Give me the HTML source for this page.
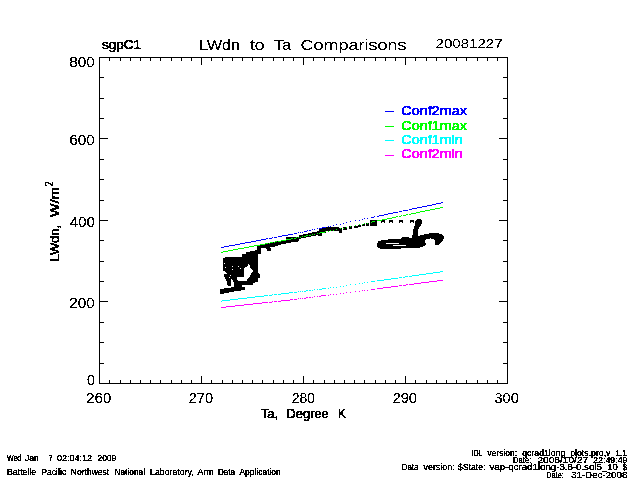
<!DOCTYPE html>
<html lang="en"><head><meta charset="utf-8"><title>LWdn to Ta Comparisons</title>
<style>
html,body{margin:0;padding:0;background:#fff;}
body{width:640px;height:480px;overflow:hidden;}
svg{display:block;}
text{font-family:"Liberation Sans",sans-serif;fill:#000;white-space:pre;}
.ax{stroke:#000;stroke-width:1;fill:none;shape-rendering:crispEdges;}
.ln{stroke-width:1;fill:none;shape-rendering:crispEdges;}
.blk{fill:#000;stroke:none;shape-rendering:crispEdges;}
.wh{fill:#fff;stroke:none;shape-rendering:crispEdges;}
</style></head><body>
<svg width="640" height="480" viewBox="0 0 640 480">
<defs><filter id="px" x="-5%" y="-20%" width="110%" height="140%" color-interpolation-filters="sRGB"><feComponentTransfer><feFuncR type="discrete" tableValues="0 1 1 1 1 1 1 1"/><feFuncG type="discrete" tableValues="0 1 1 1 1 1 1 1"/><feFuncB type="discrete" tableValues="0 1 1 1 1 1 1 1"/><feFuncA type="discrete" tableValues="0 0 1 1 1"/></feComponentTransfer></filter><filter id="px2" x="-5%" y="-20%" width="110%" height="140%" color-interpolation-filters="sRGB"><feComponentTransfer><feFuncR type="discrete" tableValues="0 1 1 1 1 1 1 1"/><feFuncG type="discrete" tableValues="0 1 1 1 1 1 1 1"/><feFuncB type="discrete" tableValues="0 1 1 1 1 1 1 1"/><feFuncA type="discrete" tableValues="0 1 1 1"/></feComponentTransfer></filter></defs>
<rect x="0" y="0" width="640" height="480" fill="#fff"/>
<g class="ax">
<rect x="99.5" y="57.5" width="408" height="326"/>
<path d="M109.5 383.5v-3.5M109.5 57.5v3.5M120.5 383.5v-3.5M120.5 57.5v3.5M130.5 383.5v-3.5M130.5 57.5v3.5M140.5 383.5v-3.5M140.5 57.5v3.5M150.5 383.5v-3.5M150.5 57.5v3.5M160.5 383.5v-3.5M160.5 57.5v3.5M171.5 383.5v-3.5M171.5 57.5v3.5M181.5 383.5v-3.5M181.5 57.5v3.5M191.5 383.5v-3.5M191.5 57.5v3.5M201.5 383.5v-7.5M201.5 57.5v7.5M211.5 383.5v-3.5M211.5 57.5v3.5M222.5 383.5v-3.5M222.5 57.5v3.5M232.5 383.5v-3.5M232.5 57.5v3.5M242.5 383.5v-3.5M242.5 57.5v3.5M252.5 383.5v-3.5M252.5 57.5v3.5M262.5 383.5v-3.5M262.5 57.5v3.5M273.5 383.5v-3.5M273.5 57.5v3.5M283.5 383.5v-3.5M283.5 57.5v3.5M293.5 383.5v-3.5M293.5 57.5v3.5M303.5 383.5v-7.5M303.5 57.5v7.5M313.5 383.5v-3.5M313.5 57.5v3.5M324.5 383.5v-3.5M324.5 57.5v3.5M334.5 383.5v-3.5M334.5 57.5v3.5M344.5 383.5v-3.5M344.5 57.5v3.5M354.5 383.5v-3.5M354.5 57.5v3.5M364.5 383.5v-3.5M364.5 57.5v3.5M375.5 383.5v-3.5M375.5 57.5v3.5M385.5 383.5v-3.5M385.5 57.5v3.5M395.5 383.5v-3.5M395.5 57.5v3.5M405.5 383.5v-7.5M405.5 57.5v7.5M415.5 383.5v-3.5M415.5 57.5v3.5M426.5 383.5v-3.5M426.5 57.5v3.5M436.5 383.5v-3.5M436.5 57.5v3.5M446.5 383.5v-3.5M446.5 57.5v3.5M456.5 383.5v-3.5M456.5 57.5v3.5M466.5 383.5v-3.5M466.5 57.5v3.5M477.5 383.5v-3.5M477.5 57.5v3.5M487.5 383.5v-3.5M487.5 57.5v3.5M497.5 383.5v-3.5M497.5 57.5v3.5M99.5 363.5h4.5M507.5 363.5h-4.5M99.5 342.5h4.5M507.5 342.5h-4.5M99.5 322.5h4.5M507.5 322.5h-4.5M99.5 301.5h8.5M507.5 301.5h-8.5M99.5 281.5h4.5M507.5 281.5h-4.5M99.5 261.5h4.5M507.5 261.5h-4.5M99.5 240.5h4.5M507.5 240.5h-4.5M99.5 220.5h8.5M507.5 220.5h-8.5M99.5 200.5h4.5M507.5 200.5h-4.5M99.5 179.5h4.5M507.5 179.5h-4.5M99.5 159.5h4.5M507.5 159.5h-4.5M99.5 138.5h8.5M507.5 138.5h-8.5M99.5 118.5h4.5M507.5 118.5h-4.5M99.5 98.5h4.5M507.5 98.5h-4.5M99.5 77.5h4.5M507.5 77.5h-4.5"/>
</g>
<g id="data">
<polygon class="blk" points="223.0,258.7 225.9,257.0 241.9,256.5 242.5,254.2 245.9,253.6 245.9,251.9 252.8,251.3 257.4,249.6 257.9,246.7 260.8,246.1 261.9,245.0 265.4,245.0 260.8,247.9 260.8,251.9 257.9,253.6 257.9,272.5 259.7,274.2 259.7,277.6 257.9,278.8 257.9,281.6 253.9,282.8 252.8,284.5 241.9,284.5 241.9,286.8 245.0,287.4 245.0,290.2 237.9,290.8 228.7,292.5 223.0,293.7 220.2,293.7 220.2,289.1 228.7,287.9 233.9,286.8 233.9,282.8 232.2,279.4 231.0,279.4 231.0,285.6 227.6,285.6 227.0,281.6 225.9,279.4 224.2,275.9 224.2,274.2 227.0,273.6 223.0,270.2"/>
<polygon class="wh" points="248.4,263.9 249.5,265.0 250.6,268.0 253.3,270.3 251.0,274.0 249.9,277.0 247.3,279.6 246.9,280.8 238.3,280.8 237.1,278.9 237.1,277.4 243.9,277.0 244.6,274.8 243.9,272.5 244.3,268.0 246.1,266.9 248.0,266.1"/>
<rect class="wh" x="232" y="266" width="1" height="1"/>
<rect class="wh" x="238" y="266" width="1" height="1"/>
<rect class="wh" x="232" y="269" width="1" height="1"/>
<rect class="wh" x="240" y="268" width="1" height="1"/>
<rect class="wh" x="224" y="263" width="1" height="1"/>
<rect class="wh" x="225" y="267" width="1" height="1"/>
<rect class="wh" x="230" y="275" width="1" height="1"/>
<rect class="wh" x="229" y="277" width="1" height="1"/>
<path class="blk" d="M257 245h1v4h-1zM258 245h1v4h-1zM259 245h1v4h-1zM260 244h1v4h-1zM261 244h1v4h-1zM262 244h1v4h-1zM263 244h1v4h-1zM264 244h1v4h-1zM265 243h1v5h-1zM266 243h1v5h-1zM267 243h1v5h-1zM268 243h1v5h-1zM269 243h1v5h-1zM270 242h1v5h-1zM271 242h1v5h-1zM272 242h1v5h-1zM273 242h1v5h-1zM274 242h1v5h-1zM275 241h1v5h-1zM276 241h1v5h-1zM277 241h1v5h-1zM278 241h1v4h-1zM279 241h1v4h-1zM280 241h1v4h-1zM281 240h1v4h-1zM282 240h1v4h-1zM283 240h1v4h-1zM284 240h1v4h-1zM285 240h1v4h-1zM286 239h1v4h-1zM287 239h1v4h-1zM288 239h1v4h-1zM289 239h1v4h-1zM290 239h1v4h-1zM291 238h1v4h-1zM292 238h1v4h-1zM293 238h1v4h-1zM294 238h1v4h-1zM295 238h1v4h-1zM296 237h1v4h-1zM297 237h1v4h-1zM298 237h1v4h-1z"/>
<polygon class="blk" points="257.5,246.2 261.2,245.0 261.2,253.8 250.0,255.0 250.0,251.2 257.5,250.6"/>
<polygon class="blk" points="266.2,247.8 270.6,247.5 270.6,250.9 266.9,250.9"/>
<polygon class="blk" points="286.0,238.6 286.5,236.8 295.0,236.8 295.5,238.0 295.5,241.7 292.0,241.7 286.0,240.0"/>
<polygon class="blk" points="299.0,235.4 300.0,235.1 301.0,234.9 302.0,234.7 303.0,234.5 304.0,234.3 305.0,234.1 306.0,233.9 307.0,233.7 308.0,233.5 309.0,233.3 310.0,233.0 311.0,232.8 312.0,232.6 313.0,232.4 314.0,232.2 315.0,232.0 316.0,231.8 317.0,231.6 318.0,231.4 319.0,231.1 319.0,234.8 318.0,235.1 317.0,235.3 316.0,235.5 315.0,235.7 314.0,235.9 313.0,236.1 312.0,236.3 311.0,236.5 310.0,236.7 309.0,237.0 308.0,237.2 307.0,237.4 306.0,237.6 305.0,237.8 304.0,238.0 303.0,238.2 302.0,238.4 301.0,238.6 300.0,238.8 299.0,239.1"/>
<polygon class="blk" points="295.0,236.9 298.1,236.9 298.1,241.9 295.0,241.9"/>
<polygon class="blk" points="318.8,227.8 326.2,227.8 326.2,232.5 321.9,232.5 321.9,235.6 317.5,236.2 317.5,232.5 318.8,232.5"/>
<polygon class="blk" points="326.2,227.5 338.8,227.2 338.8,228.1 341.9,228.1 341.9,232.5 338.8,232.5 338.8,230.6 326.2,231.5"/>
<polygon class="blk" points="343.1,227.2 346.9,227.2 346.9,229.6 343.1,229.6"/>
<polygon class="blk" points="349.4,226.2 352.2,226.2 352.2,229.0 349.4,229.0"/>
<polygon class="blk" points="353.8,225.8 357.5,225.8 357.5,228.1 353.8,228.1"/>
<polygon class="blk" points="358.1,225.0 361.2,225.0 361.2,227.2 358.1,227.2"/>
<polygon class="blk" points="361.9,224.0 365.0,224.0 365.0,226.2 361.9,226.2"/>
<polygon class="blk" points="365.6,223.2 368.8,223.2 368.8,225.6 365.6,225.6"/>
<polygon class="blk" points="370.0,220.0 377.0,220.0 377.0,225.6 370.0,225.6"/>
<path class="blk" d="M381 220h4v3h-1v-1h-2v1h-1z"/>
<path class="blk" d="M389 220h4v3h-1v-1h-2v1h-1z"/>
<path class="blk" d="M399 220h4v3h-1v-1h-2v1h-1z"/>
<path class="blk" d="M410 220h4v3h-1v-1h-2v1h-1z"/>
<polygon class="blk" points="377.0,243.4 378.2,241.5 380.8,240.5 388.2,239.6 390.8,238.8 400.8,238.8 402.6,237.1 408.2,236.8 409.5,238.4 412.0,237.8 413.2,230.2 415.1,223.4 415.8,220.2 417.6,219.0 420.8,219.2 422.0,220.9 421.8,224.0 418.9,227.8 417.6,231.5 417.6,235.9 422.0,235.0 425.8,234.0 432.0,233.1 438.2,233.4 441.4,234.2 443.9,236.5 443.9,239.0 441.4,242.1 438.9,244.6 435.1,244.6 434.5,239.6 430.8,238.4 425.8,239.0 425.1,240.9 425.8,245.2 422.0,246.8 419.5,247.8 408.2,248.0 394.5,249.0 380.8,249.0 377.6,247.1"/>
<polygon class="wh" points="385.6,243.1 398.8,243.1 398.8,244.2 385.6,244.2"/>
<polygon class="wh" points="393.1,244.9 406.2,244.9 406.2,245.9 393.1,245.9"/>
</g>
<g id="lines">
<path d="M221 247h3v1h-3zM224 246h5v1h-5zM229 245h6v1h-6zM235 244h5v1h-5zM240 243h5v1h-5zM245 242h6v1h-6zM251 241h5v1h-5zM256 240h5v1h-5zM261 239h5v1h-5zM266 238h2v1h-2zM269 238h3v1h-3zM272 237h1v1h-1zM274 237h3v1h-3zM278 236h4v1h-4zM282 235h6v1h-6zM288 234h5v1h-5zM294 233h3v1h-3zM298 232h1v1h-1zM300 232h1v1h-1zM302 232h1v1h-1zM304 231h3v1h-3zM307 230h1v1h-1zM309 230h2v1h-2zM312 229h1v1h-1zM314 229h1v1h-1zM317 228h1v1h-1zM319 228h3v1h-3zM322 227h4v1h-4zM328 226h1v1h-1zM330 226h1v1h-1zM333 225h1v1h-1zM336 224h1v1h-1zM340 224h1v1h-1zM343 223h1v1h-1zM346 222h1v1h-1zM350 221h1v1h-1zM355 220h1v1h-1zM359 220h1v1h-1zM362 219h1v1h-1zM364 218h1v1h-1zM367 218h1v1h-1zM371 217h3v1h-3zM374 216h1v1h-1zM377 216h2v1h-2zM379 215h5v1h-5zM384 214h4v1h-4zM388 213h5v1h-5zM393 212h5v1h-5zM399 211h3v1h-3zM403 210h5v1h-5zM409 209h3v1h-3zM412 208h5v1h-5zM417 207h5v1h-5zM422 206h5v1h-5zM427 205h5v1h-5zM432 204h4v1h-4zM436 203h5v1h-5zM441 202h2v1h-2z" fill="#0000ff" shape-rendering="crispEdges"/>
<path d="M221 252h2v1h-2zM223 251h5v1h-5zM228 250h5v1h-5zM233 249h5v1h-5zM238 248h6v1h-6zM244 247h5v1h-5zM249 246h5v1h-5zM254 245h6v1h-6zM260 244h5v1h-5zM265 243h3v1h-3zM269 243h1v1h-1zM270 242h3v1h-3zM274 242h1v1h-1zM275 241h2v1h-2zM278 241h3v1h-3zM281 240h5v1h-5zM286 239h5v1h-5zM291 238h2v1h-2zM294 238h2v1h-2zM296 237h1v1h-1zM298 237h1v1h-1zM300 237h1v1h-1zM302 236h1v1h-1zM304 236h2v1h-2zM306 235h2v1h-2zM309 235h2v1h-2zM312 234h1v1h-1zM314 234h1v1h-1zM317 233h1v1h-1zM319 233h1v1h-1zM320 232h5v1h-5zM325 231h1v1h-1zM328 231h1v1h-1zM330 230h1v1h-1zM333 230h1v1h-1zM336 229h1v1h-1zM340 228h1v1h-1zM343 228h1v1h-1zM346 227h1v1h-1zM350 226h1v1h-1zM355 225h1v1h-1zM359 224h1v1h-1zM362 224h1v1h-1zM364 223h1v1h-1zM367 223h1v1h-1zM371 222h1v1h-1zM372 221h3v1h-3zM377 220h5v1h-5zM382 219h5v1h-5zM387 218h5v1h-5zM392 217h4v1h-4zM396 216h2v1h-2zM399 216h2v1h-2zM401 215h1v1h-1zM403 215h3v1h-3zM406 214h2v1h-2zM409 214h2v1h-2zM411 213h5v1h-5zM416 212h4v1h-4zM420 211h5v1h-5zM425 210h5v1h-5zM430 209h5v1h-5zM435 208h5v1h-5zM440 207h3v1h-3z" fill="#00ff00" shape-rendering="crispEdges"/>
<path d="M221 301h1v1h-1zM222 300h8v1h-8zM230 299h8v1h-8zM238 298h9v1h-9zM247 297h8v1h-8zM255 296h9v1h-9zM264 295h4v1h-4zM269 295h3v1h-3zM272 294h1v1h-1zM274 294h3v1h-3zM278 294h3v1h-3zM281 293h8v1h-8zM289 292h4v1h-4zM294 292h3v1h-3zM298 291h1v1h-1zM300 291h1v1h-1zM302 291h1v1h-1zM304 291h2v1h-2zM306 290h2v1h-2zM309 290h2v1h-2zM312 290h1v1h-1zM314 289h1v1h-1zM317 289h1v1h-1zM319 289h3v1h-3zM322 288h4v1h-4zM328 288h1v1h-1zM330 287h1v1h-1zM333 287h1v1h-1zM336 287h1v1h-1zM340 286h1v1h-1zM343 286h1v1h-1zM346 285h1v1h-1zM350 284h1v1h-1zM355 284h1v1h-1zM359 283h1v1h-1zM362 283h1v1h-1zM364 282h1v1h-1zM367 282h1v1h-1zM371 281h4v1h-4zM377 280h7v1h-7zM384 279h7v1h-7zM391 278h7v1h-7zM399 277h3v1h-3zM403 277h2v1h-2zM405 276h3v1h-3zM409 276h3v1h-3zM412 275h7v1h-7zM419 274h7v1h-7zM426 273h7v1h-7zM433 272h7v1h-7zM440 271h3v1h-3z" fill="#00ffff" shape-rendering="crispEdges"/>
<path d="M221 307h5v1h-5zM226 306h9v1h-9zM235 305h9v1h-9zM244 304h9v1h-9zM253 303h9v1h-9zM262 302h6v1h-6zM269 302h3v1h-3zM272 301h1v1h-1zM274 301h3v1h-3zM278 301h3v1h-3zM281 300h9v1h-9zM290 299h3v1h-3zM294 299h3v1h-3zM298 298h1v1h-1zM300 298h1v1h-1zM302 298h1v1h-1zM304 298h2v1h-2zM306 297h2v1h-2zM309 297h2v1h-2zM312 297h1v1h-1zM314 296h1v1h-1zM317 296h1v1h-1zM319 296h2v1h-2zM321 295h5v1h-5zM328 295h1v1h-1zM330 294h1v1h-1zM333 294h1v1h-1zM336 294h1v1h-1zM340 293h1v1h-1zM343 293h1v1h-1zM346 292h1v1h-1zM350 292h1v1h-1zM355 291h1v1h-1zM359 291h1v1h-1zM362 290h1v1h-1zM364 290h1v1h-1zM367 290h1v1h-1zM371 289h4v1h-4zM377 288h6v1h-6zM383 287h8v1h-8zM391 286h7v1h-7zM399 285h3v1h-3zM403 285h3v1h-3zM406 284h2v1h-2zM409 284h5v1h-5zM414 283h7v1h-7zM421 282h8v1h-8zM429 281h8v1h-8zM437 280h6v1h-6z" fill="#ff00ff" shape-rendering="crispEdges"/>
</g>
<g id="labels" filter="url(#px)">
<text x="102" y="49" font-size="12.6" textLength="39" lengthAdjust="spacingAndGlyphs" stroke="#000" stroke-width="0.4">sgpC1</text>
<text x="199.3" y="50" font-size="14.6" textLength="40.5" lengthAdjust="spacingAndGlyphs">LWdn</text>
<text x="250" y="50" font-size="14.6" textLength="14.5" lengthAdjust="spacingAndGlyphs">to</text>
<text x="273.75" y="50" font-size="14.6" textLength="17.5" lengthAdjust="spacingAndGlyphs">Ta</text>
<text x="300.6" y="50" font-size="14.6" textLength="106.0" lengthAdjust="spacingAndGlyphs">Comparisons</text>
<text x="435.6" y="48" font-size="12.6" textLength="67" lengthAdjust="spacingAndGlyphs">20081227</text>
<text x="69.3" y="67" font-size="14" textLength="25.4" lengthAdjust="spacingAndGlyphs">800</text>
<text x="69.3" y="144.75" font-size="14" textLength="25.4" lengthAdjust="spacingAndGlyphs">600</text>
<text x="69.8" y="226.6" font-size="14" textLength="25" lengthAdjust="spacingAndGlyphs">400</text>
<text x="69.3" y="307.9" font-size="14" textLength="25.4" lengthAdjust="spacingAndGlyphs">200</text>
<text x="86.9" y="384.75" font-size="14" textLength="7.85" lengthAdjust="spacingAndGlyphs">0</text>
<text x="86.25" y="403" font-size="14" textLength="25.0" lengthAdjust="spacingAndGlyphs">260</text>
<text x="188.75" y="403" font-size="14" textLength="24.25" lengthAdjust="spacingAndGlyphs">270</text>
<text x="291.75" y="403" font-size="14" textLength="23.25" lengthAdjust="spacingAndGlyphs">280</text>
<text x="392.5" y="403" font-size="14" textLength="24.5" lengthAdjust="spacingAndGlyphs">290</text>
<text x="494.5" y="403" font-size="14" textLength="24.25" lengthAdjust="spacingAndGlyphs">300</text>
<text x="260.7" y="418.4" font-size="13" textLength="17.4" lengthAdjust="spacingAndGlyphs" stroke="#000" stroke-width="0.4">Ta,</text>
<text x="286.6" y="418.4" font-size="13" textLength="42.15" lengthAdjust="spacingAndGlyphs" stroke="#000" stroke-width="0.4">Degree</text>
<text x="338.1" y="418.4" font-size="13" textLength="7.9" lengthAdjust="spacingAndGlyphs" stroke="#000" stroke-width="0.4">K</text>
<text transform="translate(59.3 261.3) rotate(-90)" font-size="13.5" stroke="#000" stroke-width="0.4"><tspan x="0" y="0" textLength="36.3" lengthAdjust="spacingAndGlyphs">LWdn,</tspan><tspan x="44.4" y="0" textLength="29.65" lengthAdjust="spacingAndGlyphs">W/m</tspan><tspan x="75" y="-6.3" font-size="10.5" textLength="4.7" lengthAdjust="spacingAndGlyphs">2</tspan></text>
<rect x="385" y="111" width="9" height="1" fill="#0000ff" shape-rendering="crispEdges"/>
<text x="401.3" y="114.95" font-size="13.2" textLength="65.8" lengthAdjust="spacingAndGlyphs" fill="#0000ff" stroke="#0000ff" stroke-width="0.5">Conf2max</text>
<rect x="385" y="126" width="9" height="1" fill="#00ff00" shape-rendering="crispEdges"/>
<text x="401.3" y="129.95" font-size="13.2" textLength="65.8" lengthAdjust="spacingAndGlyphs" fill="#00ff00" stroke="#00ff00" stroke-width="0.5">Conf1max</text>
<rect x="385" y="140" width="9" height="1" fill="#00ffff" shape-rendering="crispEdges"/>
<text x="401.3" y="143.79999999999998" font-size="13.2" textLength="61.5" lengthAdjust="spacingAndGlyphs" fill="#00ffff" stroke="#00ffff" stroke-width="0.5">Conf1min</text>
<rect x="385" y="155" width="9" height="1" fill="#ff00ff" shape-rendering="crispEdges"/>
<text x="401.3" y="158.45" font-size="13.2" textLength="61.5" lengthAdjust="spacingAndGlyphs" fill="#ff00ff" stroke="#ff00ff" stroke-width="0.5">Conf2min</text>
</g><g id="footers" filter="url(#px2)">
<text x="7" y="460.5" font-size="9.2" textLength="14.25" lengthAdjust="spacingAndGlyphs">Wed</text>
<text x="25" y="460.5" font-size="9.2" textLength="13.75" lengthAdjust="spacingAndGlyphs">Jan</text>
<text x="48.75" y="460.5" font-size="9.2" textLength="3.75" lengthAdjust="spacingAndGlyphs">7</text>
<text x="57" y="460.5" font-size="9.2" textLength="35" lengthAdjust="spacingAndGlyphs">02:04:12</text>
<text x="97.5" y="460.5" font-size="9.2" textLength="18.75" lengthAdjust="spacingAndGlyphs">2009</text>
<text x="7" y="474.5" font-size="9.2" textLength="29.25" lengthAdjust="spacingAndGlyphs">Battelle</text>
<text x="41.25" y="474.5" font-size="9.2" textLength="25.0" lengthAdjust="spacingAndGlyphs">Pacific</text>
<text x="70.75" y="474.5" font-size="9.2" textLength="38.5" lengthAdjust="spacingAndGlyphs">Northwest</text>
<text x="114.5" y="474.5" font-size="9.2" textLength="30.5" lengthAdjust="spacingAndGlyphs">National</text>
<text x="150" y="474.5" font-size="9.2" textLength="43.75" lengthAdjust="spacingAndGlyphs">Laboratory,</text>
<text x="197.5" y="474.5" font-size="9.2" textLength="16.25" lengthAdjust="spacingAndGlyphs">Arm</text>
<text x="218" y="474.5" font-size="9.2" textLength="17" lengthAdjust="spacingAndGlyphs">Data</text>
<text x="239.5" y="474.5" font-size="9.2" textLength="41.25" lengthAdjust="spacingAndGlyphs">Application</text>
<text x="471.9" y="455.8" font-size="8.8" textLength="10.5" lengthAdjust="spacingAndGlyphs">IDL</text>
<text x="487.5" y="455.8" font-size="8.8" textLength="29.5" lengthAdjust="spacingAndGlyphs">version:</text>
<text x="522.2" y="455.8" font-size="8.8" textLength="88.3" lengthAdjust="spacingAndGlyphs">qcrad1long_plots.pro,v</text>
<text x="615.6" y="455.8" font-size="8.8" textLength="11.2" lengthAdjust="spacingAndGlyphs">1.1</text>
<text x="513" y="462.75" font-size="8.8" textLength="18.3" lengthAdjust="spacingAndGlyphs">Date:</text>
<text x="537.4" y="462.75" font-size="8.8" textLength="50.8" lengthAdjust="spacingAndGlyphs">2008/10/27</text>
<text x="593.3" y="462.75" font-size="8.8" textLength="34.1" lengthAdjust="spacingAndGlyphs">22:49:49</text>
<text x="401.8" y="470" font-size="8.8" textLength="16.6" lengthAdjust="spacingAndGlyphs">Data</text>
<text x="423.5" y="470" font-size="8.8" textLength="31.1" lengthAdjust="spacingAndGlyphs">version:</text>
<text x="458" y="470" font-size="8.8" textLength="27.5" lengthAdjust="spacingAndGlyphs">$State:</text>
<text x="489.5" y="470" font-size="8.8" textLength="128.5" lengthAdjust="spacingAndGlyphs">vap-qcrad1long-3.8-0.sol5_10</text>
<text x="623.1" y="470" font-size="8.8" textLength="3.8" lengthAdjust="spacingAndGlyphs">$</text>
<text x="546.2" y="477.6" font-size="8.8" textLength="17.6" lengthAdjust="spacingAndGlyphs">Date:</text>
<text x="571" y="477.6" font-size="8.8" textLength="56.4" lengthAdjust="spacingAndGlyphs">31-Dec-2008</text>
</g>
</svg></body></html>
